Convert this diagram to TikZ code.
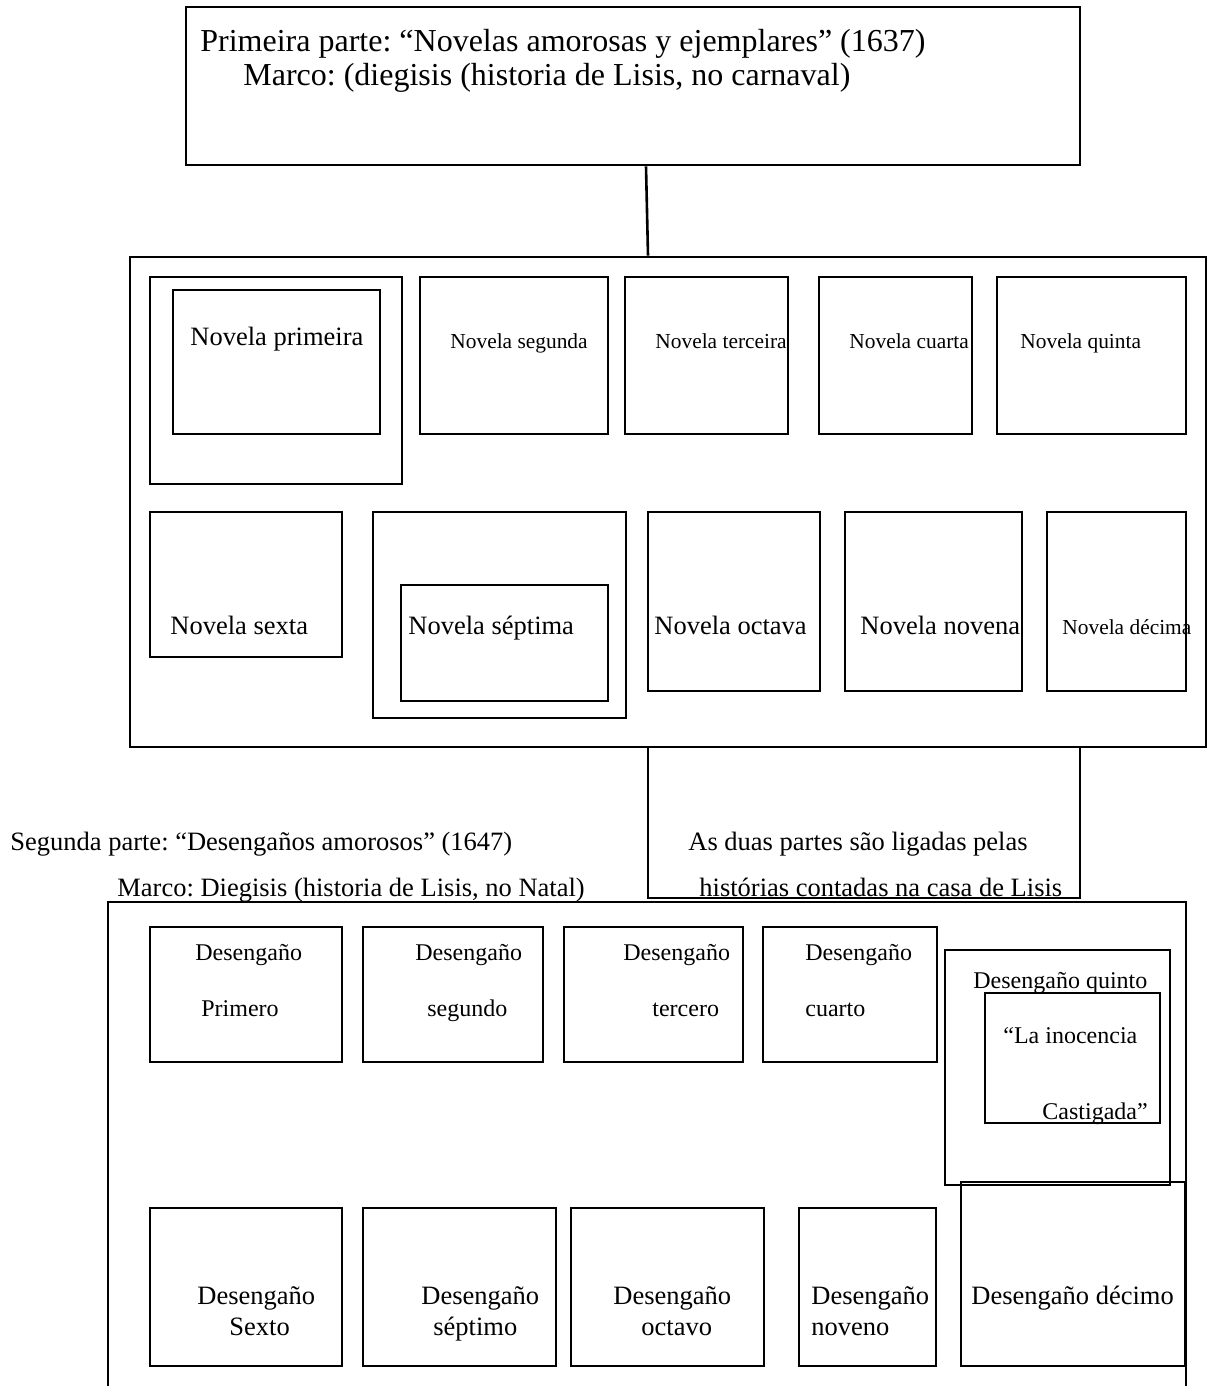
\documentclass[tikz,border=0pt]{standalone}
\usepackage{fontspec}
\setmainfont{Liberation Serif}
\usetikzlibrary{fit}
\frenchspacing

\tikzset{box/.style={draw,line width=1.3pt,inner sep=0pt},
  lab/.style={anchor=base west,inner sep=0pt},
  txtH/.style={lab,font=\fontsize{16}{19}\selectfont},
  txtL/.style={lab,font=\fontsize{13.25}{16}\selectfont},
  txtM/.style={lab,font=\fontsize{12}{14}\selectfont},
  txtS/.style={lab,font=\fontsize{10.7}{13}\selectfont}}

\begin{document}
\begin{tikzpicture}[x=0.5pt,y=-0.5pt]
\clip (0,0) rectangle (1207,1386);
% primeira parte
\node (partone) [box,fit={(186,7)(1080,165)}] {};
\node (titone) [txtH] at (200,52) {Primeira parte: “Novelas amorosas y ejemplares” (1637)};
\node (marcoone) [txtH] at (243,86) {Marco: (diegisis (historia de Lisis, no carnaval)};
\node (novelas) [box,fit={(130,257)(1206,747)}] {};
\draw[line width=1.3pt] ([xshift=6.5pt]partone.south) -- ([xshift=-10pt]novelas.north);
\foreach \n/\a/\b/\c/\d in {nprimeiraout/150/277/402/484,nprimeira/173/290/380/434,nsegunda/420/277/608/434,nterceira/625/277/788/434,ncuarta/819/277/972/434,nquinta/997/277/1186/434,nsexta/150/512/342/657,nseptimaout/373/512/626/718,nseptima/401/585/608/701,noctava/648/512/820/691,nnovena/845/512/1022/691,ndecima/1047/512/1186/691}
  \node (\n) [box,fit={(\a,\b)(\c,\d)}] {};
\foreach \n/\x/\y/\t in {tprimeira/190/345/Novela primeira,tsexta/170/634/Novela sexta,tseptima/408/634/Novela séptima,toctava/654/634/Novela octava,tnovena/860/634/Novela novena}
  \node (\n) [txtL] at (\x,\y) {\t};
\foreach \n/\x/\y/\t in {tsegunda/450/348/Novela segunda,tterceira/655/348/Novela terceira,tcuarta/849/348/Novela cuarta,tquinta/1020/348/Novela quinta,tdecima/1062/634/Novela décima}
  \node (\n) [txtS] at (\x,\y) {\t};
% ligacao
\node (link) [box,fit={(648,747)(1080,898)}] {};
\node (linkone) [txtL] at (688,850) {As duas partes são ligadas pelas};
\node (linktwo) [txtL] at (699,896) {histórias contadas na casa de Lisis};
% segunda parte
\node (tittwo) [txtL] at (10,850) {Segunda parte: “Desengaños amorosos” (1647)};
\node (marcotwo) [txtL] at (117,896) {Marco: Diegisis (historia de Lisis, no Natal)};
\node (desenganos) [box,fit={(108,902)(1186,1420)}] {};
\foreach \n/\a/\b/\c/\d in {dprimero/150/927/342/1062,dsegundo/363/927/543/1062,dtercero/564/927/743/1062,dcuarto/763/927/937/1062,dquintoout/945/950/1170/1185,dquinto/985/993/1160/1123,dsexto/150/1208/342/1366,dseptimo/363/1208/556/1366,doctavo/571/1208/764/1366,dnoveno/799/1208/936/1366,ddecimo/961/1182/1185/1366}
  \node (\n) [box,fit={(\a,\b)(\c,\d)}] {};
\foreach \n/\x/\y/\t in {aprimero/195/960/Desengaño,bprimero/201/1016/Primero,asegundo/415/960/Desengaño,bsegundo/427/1016/segundo,atercero/623/960/Desengaño,btercero/652/1016/tercero,acuarto/805/960/Desengaño,bcuarto/805/1016/cuarto,aquinto/973/988/Desengaño quinto,binocencia/1003/1043/“La inocencia,bcastigada/1042/1119/Castigada”}
  \node (\n) [txtM] at (\x,\y) {\t};
\foreach \n/\x/\y/\t in {asexto/197/1304/Desengaño,bsexto/229/1335/Sexto,aseptimo/421/1304/Desengaño,bseptimo/433/1335/séptimo,aoctavo/613/1304/Desengaño,boctavo/641/1335/octavo,anoveno/811/1304/Desengaño,bnoveno/811/1335/noveno,adecimo/971/1304/Desengaño décimo}
  \node (\n) [txtL] at (\x,\y) {\t};
\end{tikzpicture}
\end{document}
